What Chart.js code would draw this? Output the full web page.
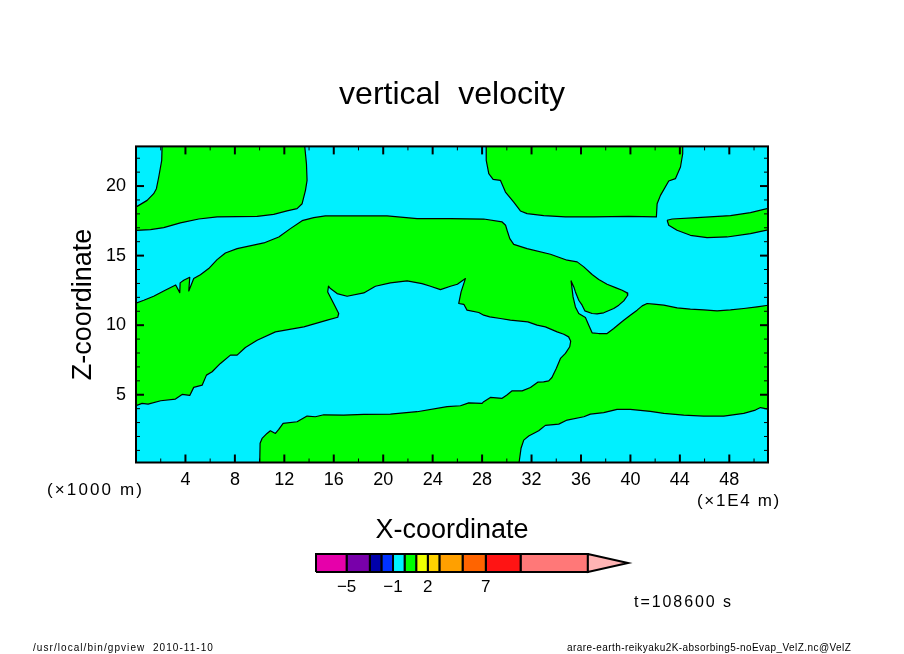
<!DOCTYPE html>
<html><head><meta charset="utf-8">
<script src="https://cdn.jsdelivr.net/npm/chart.js@4"></script>
<style>html,body{margin:0;padding:0;background:#fff;width:904px;height:654px;overflow:hidden}
#main{position:absolute;left:0;top:0}#bar{position:absolute;left:296px;top:540px}</style>
</head><body>
<canvas id="main" width="904" height="654" style="width:904px;height:654px"></canvas>
<canvas id="bar" width="352" height="60" style="width:352px;height:60px"></canvas>
<script>
const titleText = 'vertical  velocity';
const xTitle = 'X-coordinate';
const zTitle = 'Z-coordinate';
const xRange = [0, 51.13];
const zRange = [0.13, 22.85];
const xMajor = [4,8,12,16,20,24,28,32,36,40,44,48];
const xMinor = [2,6,10,14,18,22,26,30,34,38,42,46,50];
const zMajor = [5,10,15,20];
const zMinor = [1,2,3,4,6,7,8,9,11,12,13,14,16,17,18,19,21,22];

const domain = [[-1,-1],[52,-1],[52,24],[-1,24]];
const greenTopLeft = [[2.11,24],[2.11,22.85],[2.08,21.84],[1.84,20.65],[1.65,19.81],[1.43,19.45],[0.9,18.97],[0.09,18.54],[-1,18.3],[-1,16.78],[0,16.81],[1.17,16.87],[2.24,17.01],[3.59,17.35],[5.08,17.63],[6.56,17.78],[9.8,17.82],[11.14,17.97],[12.22,18.21],[13.03,18.38],[13.44,18.73],[13.71,19.69],[13.84,20.41],[13.79,21.61],[13.65,22.85],[13.65,24]];
const greenTopMiddle = [[28.32,24],[28.32,22.85],[28.35,21.84],[28.54,20.89],[28.89,20.48],[29.48,20.41],[29.89,19.57],[30.56,18.85],[31.1,18.21],[31.64,18.02],[32.99,17.88],[34.74,17.78],[37.03,17.78],[39.87,17.82],[42.1,17.78],[42.16,18.73],[42.43,19.33],[43.1,20.36],[43.64,20.53],[44.05,21.37],[44.23,22.32],[44.23,24]];
const greenRightLens = [[42.97,17.54],[43.38,17.63],[45.39,17.73],[48.09,17.88],[49.71,18.09],[51.5,18.48],[52,18.6],[52,16.8],[51.5,16.92],[49.71,16.58],[47.82,16.34],[46.2,16.29],[44.85,16.46],[43.77,16.82],[43.1,17.18],[42.97,17.54]];
const greenMain = [[-1,11.4],[0,11.58],[0.63,11.79],[1.43,12.08],[2.24,12.46],[3.21,12.89],[3.54,12.34],[3.57,13.04],[3.86,13.23],[4.35,13.44],[4.27,12.46],[4.67,13.35],[5.21,13.63],[5.88,14.07],[6.56,14.71],[7.23,15.19],[8.18,15.5],[10.34,15.91],[11.55,16.34],[12.49,16.94],[13.44,17.51],[14.38,17.73],[15.32,17.85],[20.31,17.85],[22.74,17.66],[25.44,17.66],[28.13,17.63],[29.62,17.42],[29.9,17.18],[30.02,16.82],[30.24,16.22],[30.56,15.81],[31.64,15.5],[33.53,15.1],[34.88,14.67],[35.69,14.55],[36.23,14.19],[36.9,13.64],[37.44,13.28],[38.11,12.94],[38.79,12.7],[39.33,12.51],[39.73,12.32],[39.78,12.15],[39.46,11.75],[39.06,11.44],[38.65,11.2],[37.84,10.89],[37.3,10.81],[36.9,10.84],[36.31,11.03],[36.09,11.44],[35.82,11.79],[35.55,12.39],[35.42,12.75],[35.2,13.18],[35.36,12.03],[35.55,11.31],[35.82,10.84],[36.36,10.55],[36.63,10],[36.9,9.45],[37.44,9.4],[38.11,9.4],[38.65,9.76],[39.06,10.07],[39.46,10.36],[39.99,10.72],[40.54,11.08],[40.95,11.39],[41.35,11.56],[41.89,11.51],[42.7,11.44],[43.78,11.25],[44.85,11.15],[45.93,11.1],[47.01,11.03],[48.09,11.1],[49.17,11.2],[50.25,11.32],[51.5,11.48],[52,11.55],[52,3.9],[51.2,3.95],[50.52,4.08],[50.11,3.9],[49.17,3.66],[47.55,3.47],[45.93,3.47],[44.31,3.54],[42.7,3.66],[41.61,3.8],[39.99,3.95],[38.92,3.95],[37.84,3.71],[36.76,3.61],[36.23,3.42],[34.88,3.18],[34.2,2.89],[33.12,2.8],[32.58,2.41],[31.77,2.03],[31.37,1.74],[31.15,1.15],[30.99,0.12],[30.99,-1],[10.01,-1],[10.01,0.12],[10.04,1.51],[10.2,1.86],[10.6,2.22],[10.87,2.41],[11.28,2.22],[11.55,2.51],[11.9,2.94],[13.03,3.06],[13.84,3.47],[14.51,3.42],[15.19,3.56],[16.8,3.54],[18.43,3.59],[20.58,3.61],[22.74,3.78],[25.17,4.14],[26.25,4.21],[26.92,4.42],[28,4.38],[28.13,4.5],[28.67,4.81],[29.62,4.74],[29.98,4.97],[30.43,5.28],[31.24,5.28],[31.91,5.52],[32.5,5.9],[32.98,5.93],[33.39,6],[33.65,6.24],[34,6.89],[34.34,7.61],[34.74,7.97],[35.09,8.45],[35.17,8.85],[35,9.16],[34.61,9.35],[34.07,9.52],[33.12,9.88],[32.45,10],[31.7,10.24],[30.29,10.36],[29.48,10.48],[28.62,10.6],[28.13,10.72],[27.73,10.91],[26.78,11.08],[26.52,11.5],[26.11,11.56],[26.3,12.39],[26.65,13.35],[26,12.94],[25.44,12.8],[24.63,12.56],[23.82,12.8],[23.14,12.99],[21.93,13.18],[20.58,13.04],[19.37,12.8],[18.43,12.32],[17.08,12.08],[16.27,12.27],[15.73,12.63],[15.57,12.8],[15.51,12.39],[15.99,11.56],[16.4,10.84],[16.32,10.57],[15.47,10.36],[13.58,9.88],[11.28,9.52],[9.8,8.92],[8.85,8.4],[8.18,7.85],[7.64,7.85],[6.83,7.25],[6.16,6.65],[5.7,6.41],[5.35,5.69],[4.67,5.53],[4.35,4.95],[3.73,5.02],[3.19,4.69],[2,4.57],[0.98,4.33],[0.49,4.38],[0,4.21],[-1,4.1]];

const cyanColor = '#00f0ff';
const greenColor = '#00ff00';

const levels = [-7.64,-5,-3,-2,-1,0,1,2,3,5,7,10,15.8];
const levelColors = ['#e600aa','#7800aa','#0000aa','#0032ff','#00f0ff','#00ff00','#f0ff00','#ffd200','#ffa000','#ff6400','#ff1414','#ff7878'];
const overColor = '#ffb4b4';
const barTip = 19.26;
const barTicks = [-5,-1,2,7];

const notes = [
  {text:'(×1000 m)', x:47, w:97, y:490, font:'17px "Liberation Sans"'},
  {text:'(×1E4 m)', x:697, w:84, y:501, font:'17px "Liberation Sans"'},
  {text:'t=108600 s', x:634, w:99, y:603, font:'16px "Liberation Sans"'},
  {text:'/usr/local/bin/gpview  2010-11-10', x:33, w:181, y:648, font:'10px "Liberation Sans"'},
  {text:'arare-earth-reikyaku2K-absorbing5-noEvap_VelZ.nc@VelZ', x:567, w:284, y:648, font:'10px "Liberation Sans"'}
];

const toPts = a => a.map(p => ({x:p[0], y:p[1]}));
const poly = (pts, color, line) => ({
  data: toPts(pts), showLine:true, fill:'shape', backgroundColor:color,
  borderColor: line ? '#000' : color, borderWidth: line ? 1.2 : 0,
  pointRadius:0, pointHoverRadius:0, tension:0, borderJoinStyle:'round'
});

const frame = {
  id:'frame',
  afterDatasetsDraw(c){
    const {ctx, chartArea:a, scales:{x,y}} = c;
    ctx.save(); ctx.strokeStyle='#000';
    const seg=(x1,y1,x2,y2)=>{ctx.beginPath();ctx.moveTo(x1,y1);ctx.lineTo(x2,y2);ctx.stroke();};
    const draw=(xs,zs,len,w)=>{
      ctx.lineWidth=w;
      xs.forEach(v=>{const p=x.getPixelForValue(v);seg(p,a.bottom,p,a.bottom-len);seg(p,a.top,p,a.top+len);});
      zs.forEach(v=>{const p=y.getPixelForValue(v);seg(a.left,p,a.left+len,p);seg(a.right,p,a.right-len,p);});
    };
    draw(xMinor,zMinor,4,1);
    draw(xMajor,zMajor,8,2);
    ctx.lineWidth=2;
    ctx.strokeRect(a.left,a.top,a.right-a.left,a.bottom-a.top);
    ctx.restore();
  },
  afterDraw(c){
    const ctx=c.ctx; ctx.save(); ctx.fillStyle='#000'; ctx.textBaseline='middle'; ctx.textAlign='left';
    notes.forEach(n=>{
      ctx.font=n.font; ctx.letterSpacing='0px';
      const m=ctx.measureText(n.text).width;
      ctx.letterSpacing=((n.w-m)/n.text.length).toFixed(2)+'px';
      ctx.fillText(n.text,n.x,n.y);
    });
    ctx.restore();
  }
};

new Chart(document.getElementById('main'), {
  type:'scatter',
  data:{datasets:[
    poly(greenTopLeft,greenColor,true),
    poly(greenTopMiddle,greenColor,true),
    poly(greenRightLens,greenColor,true),
    poly(greenMain,greenColor,true),
    poly(domain,cyanColor,false)
  ]},
  options:{
    responsive:false, animation:false, devicePixelRatio:1,
    layout:{padding:0},
    plugins:{
      legend:{display:false}, tooltip:{enabled:false},
      title:{display:true,text:titleText,color:'#000',font:{family:'"Liberation Sans"',size:32,weight:'normal',lineHeight:1.2},padding:{top:76,bottom:32}}
    },
    scales:{
      x:{type:'linear',min:xRange[0],max:xRange[1],
        afterBuildTicks(s){s.ticks=xMajor.map(v=>({value:v}));},
        afterFit(s){s.height=191.5;},
        grid:{display:false,drawTicks:false},border:{display:false},
        ticks:{color:'#000',font:{family:'"Liberation Sans"',size:18},padding:7,maxRotation:0,autoSkip:false},
        title:{display:true,text:xTitle,color:'#000',font:{family:'"Liberation Sans"',size:27},padding:{bottom:107}}
      },
      y:{type:'linear',min:zRange[0],max:zRange[1],
        afterBuildTicks(s){s.ticks=zMajor.map(v=>({value:v}));},
        afterFit(s){s.width=136;},
        grid:{display:false,drawTicks:false},border:{display:false},
        ticks:{color:'#000',font:{family:'"Liberation Sans"',size:18},padding:10},
        title:{display:true,text:zTitle,color:'#000',font:{family:'"Liberation Sans"',size:27},padding:{top:67}}
      },
      yRight:{type:'linear',position:'right',min:zRange[0],max:zRange[1],
        afterFit(s){s.width=136;},
        grid:{display:false,drawTicks:false},border:{display:false},ticks:{display:false}
      }
    }
  },
  plugins:[frame]
});

const closeRing = a => [...a, a[0]];
const cells = levelColors.map((col,i)=>poly(closeRing([[levels[i],0],[levels[i+1],0],[levels[i+1],1],[levels[i],1]]),col,true));
const tip = poly(closeRing([[levels[levels.length-1],1],[barTip,0.5],[levels[levels.length-1],0]]),overColor,true);
[...cells,tip].forEach(d=>{d.clip=false;d.borderWidth=2;d.borderJoinStyle='miter';});
new Chart(document.getElementById('bar'), {
  type:'scatter',
  data:{datasets:[tip,...cells]},
  options:{
    responsive:false, animation:false, devicePixelRatio:1,
    layout:{padding:{left:20,right:20,top:14,bottom:0}},
    plugins:{legend:{display:false},tooltip:{enabled:false},title:{display:false}},
    scales:{
      x:{type:'linear',min:levels[0],max:barTip,
        afterBuildTicks(s){s.ticks=barTicks.map(v=>({value:v}));},
        afterFit(s){s.height=28;},
        grid:{display:false,drawTicks:false},border:{display:false},
        ticks:{color:'#000',font:{family:'"Liberation Sans"',size:17},padding:5,maxRotation:0,autoSkip:false,
          callback:v=>String(v).replace('-','\u2212')}
      },
      y:{type:'linear',min:0,max:1,display:false}
    }
  }
});
</script>
</body></html>
